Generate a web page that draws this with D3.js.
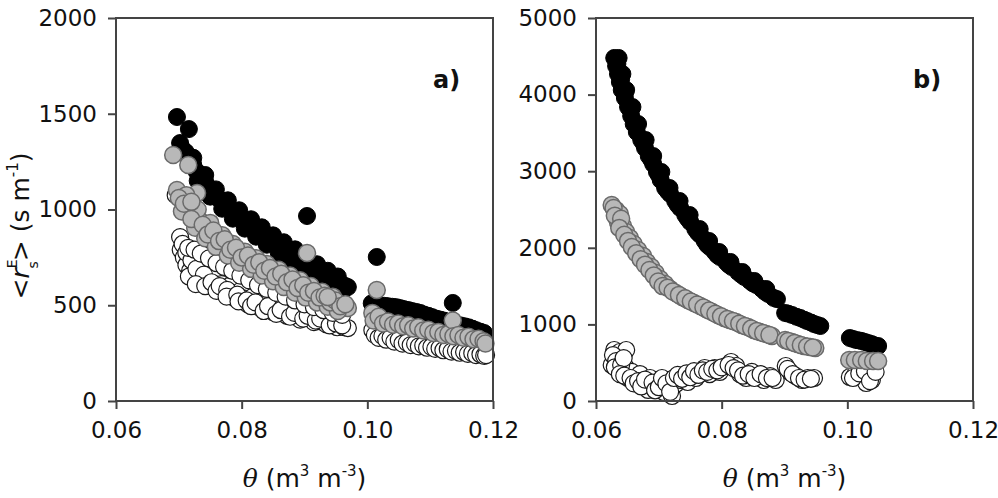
<!DOCTYPE html>
<head>
  <meta charset="utf-8" />
  <script src="https://d3js.org/d3.v7.min.js"></script>
  <style>
    body { margin: 0; background: #fff; }
    text { font-family: "DejaVu Sans", sans-serif; fill: #111; }
  </style>
</head>
<body>
  <script>
    // tick values
    var xTicks = [0.06, 0.08, 0.10, 0.12];
    var aTicks = [0, 500, 1000, 1500, 2000];
    var bTicks = [0, 1000, 2000, 3000, 4000, 5000];

    // panel a) -- [theta, rs]
    var aBlack = [
      [0.0697,1483],[0.0716,1420],[0.0702,1347],[0.0711,1300],[0.0723,1232],[0.0734,1180],[0.0742,1144],
      [0.0750,1102],[0.0759,1070],[0.0769,1039],[0.0778,1013],[0.0786,987],[0.0796,961],[0.0805,935],
      [0.0815,914],[0.0823,893],[0.0832,872],[0.0840,851],[0.0850,830],[0.0859,809],[0.0867,794],
      [0.0877,773],[0.0885,757],[0.0893,736],[0.0902,715],[0.0910,700],[0.0920,679],[0.0928,663],
      [0.0937,648],[0.0945,632],[0.0953,621],[0.0961,606],[0.0969,595],
      [0.0723,1270],[0.0742,1180],[0.0759,1105],[0.0778,1048],[0.0796,996],[0.0815,949],[0.0832,907],
      [0.0850,865],[0.0867,829],[0.0885,792],[0.0902,750],[0.0920,714],[0.0937,680],[0.0953,650],
      [0.0730,1150],[0.0750,1067],[0.0769,1004],[0.0786,952],[0.0805,900],[0.0823,858],[0.0840,816],
      [0.0859,774],[0.0877,738],[0.0893,701],[0.0910,665],[0.0928,628],[0.0945,600],[0.0961,575],
      [0.0705,1320],[0.0716,1270],[0.0728,1200],[0.0738,1160],[0.0746,1120],[0.0755,1085],[0.0764,1055],
      [0.0773,1025],[0.0782,1000],[0.0791,975],[0.0800,948],[0.0810,925],[0.0819,903],[0.0828,882],
      [0.0836,862],[0.0845,840],[0.0854,820],[0.0863,800],[0.0872,783],[0.0881,765],[0.0889,746],
      [0.0898,725],[0.0906,708],[0.0915,690],[0.0924,671],[0.0932,655],[0.0941,640],[0.0949,626],
      [0.0957,613],[0.0965,600],
      [0.0904,966],
      [0.1015,752],[0.1136,512],
      [0.1007,510],[0.1020,500],[0.1033,495],[0.1046,490],[0.1058,480],[0.1071,470],[0.1084,460],
      [0.1097,445],[0.1110,430],[0.1122,420],[0.1135,405],[0.1148,395],[0.1161,385],[0.1173,370],[0.1186,355],
      [0.1013,505],[0.1027,497],[0.1040,492],[0.1052,485],[0.1065,475],[0.1078,465],[0.1090,452],
      [0.1103,438],[0.1116,425],[0.1129,412],[0.1142,400],[0.1155,390],[0.1167,378],[0.1180,362]
    ];
    var aGray = [
      [0.0691,1285],[0.0715,1232],[0.0697,1102],[0.0729,1086],[0.0705,1050],[0.0715,1010],[0.0724,975],
      [0.0734,940],[0.0742,905],[0.0750,880],[0.0759,850],[0.0769,825],[0.0778,800],[0.0786,780],
      [0.0796,760],[0.0805,740],[0.0815,720],[0.0823,705],[0.0832,690],[0.0840,675],[0.0850,655],
      [0.0859,640],[0.0867,625],[0.0877,610],[0.0885,597],[0.0893,585],[0.0902,570],[0.0910,558],
      [0.0920,545],[0.0928,532],[0.0937,520],[0.0945,510],[0.0953,500],[0.0961,493],[0.0969,486],
      [0.0712,1075],[0.0730,1000],[0.0750,930],[0.0769,865],[0.0786,820],[0.0805,780],[0.0823,745],
      [0.0840,715],[0.0859,685],[0.0877,655],[0.0893,630],[0.0910,600],[0.0928,570],[0.0945,545],
      [0.0705,990],[0.0726,905],[0.0742,850],[0.0759,805],[0.0778,760],[0.0796,722],[0.0815,690],
      [0.0832,655],[0.0850,625],[0.0867,595],[0.0885,565],[0.0902,540],[0.0920,515],[0.0937,492],[0.0953,470],
      [0.0700,1060],[0.0708,1030],[0.0720,1040],[0.0720,950],[0.0738,920],[0.0746,870],[0.0755,890],
      [0.0764,835],[0.0773,845],[0.0782,790],[0.0791,800],[0.0800,750],[0.0810,760],[0.0819,712],
      [0.0828,725],[0.0836,680],[0.0845,695],[0.0854,650],[0.0863,665],[0.0872,620],[0.0881,635],
      [0.0889,590],[0.0898,605],[0.0906,565],[0.0915,575],[0.0924,540],[0.0932,550],[0.0941,515],
      [0.0949,525],[0.0957,495],[0.0965,505],
      [0.0904,773],[0.0937,543],
      [0.1015,580],[0.1008,460],[0.1010,420],[0.1018,440],[0.1025,405],[0.1033,415],[0.1041,398],
      [0.1049,405],[0.1057,390],[0.1065,395],[0.1073,378],[0.1081,385],[0.1089,368],[0.1097,372],
      [0.1105,355],[0.1113,360],[0.1121,345],[0.1129,350],[0.1136,420],[0.1137,338],[0.1145,345],
      [0.1153,330],[0.1161,335],[0.1169,322],[0.1177,325],[0.1185,312],[0.1188,300]
    ];
    var aWhite = [
      [0.0695,1075],[0.0702,856],[0.0703,790],[0.0708,750],[0.0712,710],[0.0718,680],[0.0725,760],
      [0.0730,720],[0.0734,660],[0.0738,620],[0.0745,690],[0.0750,640],[0.0755,595],[0.0762,650],
      [0.0768,610],[0.0772,565],[0.0780,600],[0.0786,560],[0.0790,535],[0.0798,575],[0.0805,535],
      [0.0810,505],[0.0818,545],[0.0825,505],[0.0830,485],[0.0838,520],[0.0845,480],[0.0850,465],
      [0.0858,500],[0.0865,460],[0.0872,445],[0.0880,480],[0.0888,445],[0.0893,425],[0.0900,465],
      [0.0908,430],[0.0915,412],[0.0920,450],[0.0927,415],[0.0935,400],[0.0940,440],[0.0945,400],
      [0.0952,385],[0.0958,410],[0.0963,385],[0.0969,381],
      [0.0706,820],[0.0712,775],[0.0720,735],[0.0716,650],[0.0728,690],[0.0740,660],[0.0727,610],
      [0.0742,600],[0.0752,620],[0.0760,575],[0.0765,600],[0.0777,580],[0.0776,545],[0.0793,555],
      [0.0795,520],[0.0808,525],[0.0815,495],[0.0822,515],[0.0835,470],[0.0842,495],[0.0855,455],
      [0.0862,475],[0.0877,440],[0.0884,460],[0.0898,430],[0.0905,445],[0.0918,420],[0.0925,430],
      [0.0940,395],[0.0950,405],[0.0960,395],
      [0.0715,800],[0.0725,790],[0.0735,770],[0.0748,745],[0.0760,720],[0.0772,700],[0.0785,680],
      [0.0798,655],[0.0812,630],[0.0826,605],[0.0840,585],[0.0855,565],[0.0870,545],[0.0885,525],
      [0.0900,505],[0.0915,490],[0.0930,475],[0.0945,460],[0.0960,450],
      [0.1008,370],[0.1012,345],[0.1018,330],[0.1024,340],[0.1030,320],[0.1037,330],[0.1043,310],
      [0.1050,318],[0.1056,300],[0.1063,305],[0.1069,292],[0.1076,298],[0.1082,285],[0.1089,290],
      [0.1095,278],[0.1102,283],[0.1108,272],[0.1115,276],[0.1121,265],[0.1128,270],[0.1134,258],
      [0.1141,262],[0.1147,252],[0.1154,256],[0.1160,246],[0.1167,250],[0.1173,240],[0.1180,244],
      [0.1186,236],[0.1189,240]
    ];

    // panel b)
    var bBlack = [
      [0.0629,4478],[0.0632,4373],[0.0635,4269],[0.0638,4165],[0.0641,4060],[0.0646,3956],[0.0651,3838],
      [0.0656,3721],[0.0660,3616],[0.0665,3512],[0.0672,3407],[0.0678,3303],[0.0684,3198],[0.0691,3094],
      [0.0697,2990],[0.0703,2885],[0.0710,2781],[0.0718,2702],[0.0726,2611],[0.0734,2520],[0.0742,2428],
      [0.0750,2337],[0.0758,2245],[0.0766,2167],[0.0773,2089],[0.0781,2010],[0.0789,1945],[0.0797,1880],
      [0.0807,1815],[0.0816,1749],[0.0826,1684],[0.0836,1619],[0.0845,1567],[0.0855,1514],[0.0864,1462],
      [0.0874,1397],[0.0883,1345],
      [0.0634,4400],[0.0640,4200],[0.0646,4020],[0.0655,3800],[0.0664,3580],[0.0676,3360],[0.0688,3150],
      [0.0700,2950],[0.0714,2740],[0.0730,2560],[0.0746,2380],[0.0762,2200],[0.0777,2040],[0.0793,1905],
      [0.0811,1780],[0.0831,1650],[0.0850,1535],[0.0869,1425],
      [0.0636,4478],[0.0642,4269],[0.0648,4060],[0.0658,3838],[0.0667,3616],[0.0679,3407],[0.0691,3198],
      [0.0704,2990],[0.0717,2781],[0.0733,2611],[0.0749,2428],[0.0765,2245],[0.0780,2089],[0.0796,1945],
      [0.0814,1815],[0.0833,1684],[0.0852,1567],[0.0871,1462],[0.0888,1330],
      [0.0901,1149],[0.0912,1123],[0.0925,1084],[0.0936,1044],[0.0947,1005],[0.0957,979],
      [0.0906,1140],[0.0919,1100],[0.0931,1062],[0.0942,1025],[0.0952,992],
      [0.1004,822],[0.1014,796],[0.1023,783],[0.1033,757],[0.1042,731],[0.1049,718],
      [0.1009,810],[0.1019,790],[0.1028,770],[0.1038,745]
    ];
    var bGray = [
      [0.0625,2559],[0.0632,2494],[0.0638,2441],[0.0635,2337],[0.0643,2285],[0.0648,2206],[0.0654,2128],
      [0.0660,2050],[0.0667,1971],[0.0675,1893],[0.0681,1815],[0.0688,1749],[0.0695,1671],[0.0702,1593],
      [0.0710,1527],[0.0718,1462],[0.0727,1410],[0.0737,1358],[0.0746,1319],[0.0756,1279],[0.0766,1240],
      [0.0775,1201],[0.0785,1162],[0.0794,1123],[0.0804,1084],[0.0813,1057],[0.0823,1031],[0.0832,992],
      [0.0842,966],[0.0851,927],[0.0861,901],[0.0871,875],[0.0880,849],
      [0.0628,2520],[0.0630,2420],[0.0640,2380],[0.0637,2260],[0.0645,2170],[0.0651,2090],[0.0657,2010],
      [0.0664,1930],[0.0671,1850],[0.0678,1780],[0.0685,1710],[0.0692,1640],[0.0699,1560],[0.0706,1500],
      [0.0714,1480],[0.0722,1430],[0.0732,1385],[0.0742,1340],[0.0751,1300],[0.0761,1260],[0.0771,1220],
      [0.0780,1180],[0.0790,1140],[0.0799,1105],[0.0809,1070],[0.0818,1045],[0.0828,1010],[0.0837,980],
      [0.0847,945],[0.0856,915],[0.0866,888],[0.0876,862],
      [0.0901,796],[0.0912,770],[0.0921,744],[0.0931,718],[0.0941,705],[0.0949,692],
      [0.0906,783],[0.0916,757],[0.0926,731],[0.0936,712],[0.0945,698],
      [0.1003,535],[0.1012,535],[0.1022,535],[0.1031,522],[0.1041,522],[0.1049,522]
    ];
    var bWhite = [
      [0.0629,666],[0.0638,640],[0.0648,666],[0.0633,561],[0.0641,509],[0.0625,470],[0.0635,405],
      [0.0648,431],[0.0657,379],[0.0651,300],[0.0664,274],[0.0670,352],[0.0676,222],[0.0686,300],
      [0.0683,144],[0.0696,196],[0.0702,248],[0.0708,117],[0.0715,170],[0.0721,65],[0.0727,222],
      [0.0734,274],[0.0740,326],[0.0746,248],[0.0753,352],[0.0759,300],[0.0766,379],[0.0773,431],
      [0.0781,352],[0.0789,431],[0.0797,379],[0.0807,457],[0.0815,509],[0.0823,457],[0.0829,352],
      [0.0839,300],[0.0848,379],[0.0858,326],[0.0867,274],[0.0877,326],[0.0886,274],
      [0.0902,457],[0.0909,379],[0.0918,326],[0.0928,274],[0.0937,300],[0.0947,300],
      [0.0627,600],[0.0632,520],[0.0630,440],[0.0640,470],[0.0644,560],[0.0638,350],[0.0645,330],
      [0.0655,300],[0.0660,230],[0.0667,260],[0.0672,190],[0.0678,280],[0.0690,240],[0.0694,140],
      [0.0700,180],[0.0705,300],[0.0712,230],[0.0718,120],[0.0724,300],[0.0730,340],[0.0737,290],
      [0.0744,360],[0.0750,310],[0.0756,390],[0.0763,340],[0.0770,400],[0.0777,380],[0.0785,420],
      [0.0793,400],[0.0800,440],[0.0811,470],[0.0819,430],[0.0826,400],[0.0834,330],[0.0843,350],
      [0.0852,300],[0.0862,350],[0.0872,300],[0.0881,300],[0.0905,420],[0.0913,350],[0.0923,300],
      [0.0932,280],[0.0942,290],
      [0.1004,313],[0.1014,379],[0.1023,405],[0.1033,379],[0.1042,405],[0.1030,235],[0.1039,274],
      [0.1009,300],[0.1019,360],[0.1028,390],[0.1036,260],[0.1045,380]
    ];

    var width = 998, height = 498;
    var plotTop = 18, plotBottom = 401;
    var axisColor = "#444";

    var svg = d3.select("body").append("svg")
      .attr("width", width)
      .attr("height", height);

    svg.append("rect").attr("width", width).attr("height", height).attr("fill", "#fff");

    var styles = {
      white: { fill: "#fff", stroke: "#1a1a1a", sw: 1.2 },
      black: { fill: "#000", stroke: "#000", sw: 1 },
      gray:  { fill: "#b8b8b8", stroke: "#6a6a6a", sw: 1.5 }
    };

    function drawPanel(left, right, ymax, yTicks, tag, series) {
      var x = d3.scaleLinear().domain([0.06, 0.12]).range([left, right]);
      var y = d3.scaleLinear().domain([0, ymax]).range([plotBottom, plotTop]);
      var g = svg.append("g");

      // points
      series.forEach(function (s) {
        var st = styles[s.style];
        g.append("g").selectAll("circle")
          .data(s.data)
          .join("circle")
          .attr("cx", function (d) { return x(d[0]); })
          .attr("cy", function (d) { return y(d[1]); })
          .attr("r", 8.5)
          .attr("fill", st.fill)
          .attr("stroke", st.stroke)
          .attr("stroke-width", st.sw);
      });

      // frame
      g.append("rect")
        .attr("x", left).attr("y", plotTop)
        .attr("width", right - left).attr("height", plotBottom - plotTop)
        .attr("fill", "none").attr("stroke", axisColor).attr("stroke-width", 2);

      var ya = g.append("g").attr("transform", "translate(" + left + ",0)")
        .call(d3.axisLeft(y).tickValues(yTicks).tickSize(8).tickPadding(11).tickFormat(d3.format("d")));
      var xa = g.append("g").attr("transform", "translate(0," + plotBottom + ")")
        .call(d3.axisBottom(x).tickValues(xTicks).tickSize(8).tickPadding(13).tickFormat(d3.format(".2f")));

      [ya, xa].forEach(function (a) {
        a.select(".domain").remove();
        a.selectAll("line").attr("stroke", axisColor).attr("stroke-width", 2);
        a.selectAll("text").attr("font-size", 23).attr("fill", "#111")
          .attr("font-family", "DejaVu Sans, sans-serif");
      });

      g.append("text")
        .attr("x", right - 60).attr("y", 88)
        .attr("font-size", 24).attr("font-weight", "bold")
        .text(tag);

      // x axis title
      var xt = g.append("text")
        .attr("x", (left + right) / 2).attr("y", 487)
        .attr("text-anchor", "middle").attr("font-size", 25);
      xt.append("tspan").attr("font-family", "DejaVu Serif, serif").attr("font-style", "italic").text("θ");
      xt.append("tspan").text(" (m");
      xt.append("tspan").attr("font-size", 15).attr("dy", -11).text("3");
      xt.append("tspan").attr("dy", 11).text(" m");
      xt.append("tspan").attr("font-size", 15).attr("dy", -11).text("-3");
      xt.append("tspan").attr("dy", 11).text(")");
    }

    drawPanel(116, 493, 2000, aTicks, "a)", [
      { style: "white", data: aWhite },
      { style: "black", data: aBlack },
      { style: "gray", data: aGray }
    ]);
    drawPanel(596, 973, 5000, bTicks, "b)", [
      { style: "white", data: bWhite },
      { style: "black", data: bBlack },
      { style: "gray", data: bGray }
    ]);

    // y axis title (panel a only)
    var yt = svg.append("text")
      .attr("transform", "translate(29,226) rotate(-90)")
      .attr("text-anchor", "middle").attr("font-size", 25);
    yt.append("tspan").text("<");
    yt.append("tspan").attr("font-style", "italic").text("r");
    yt.append("tspan").attr("font-size", 14).attr("dy", -12).text("E");
    yt.append("tspan").attr("font-size", 14).attr("dx", -9).attr("dy", 21).text("s");
    yt.append("tspan").attr("dy", -9).text("> (s m");
    yt.append("tspan").attr("font-size", 15).attr("dy", -11).text("-1");
    yt.append("tspan").attr("dy", 11).text(")");
  </script>
</body>
